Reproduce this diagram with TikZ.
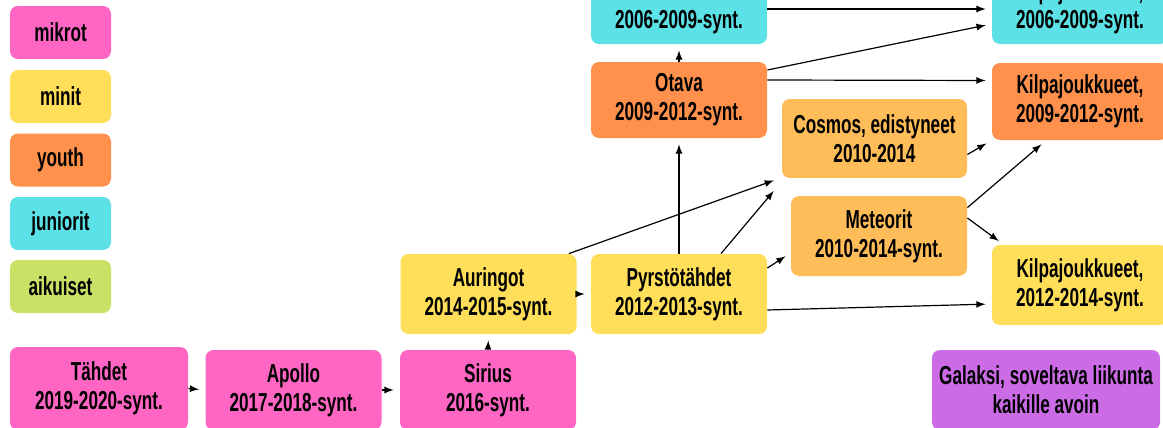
\documentclass[tikz,border=0pt]{standalone}
\usepackage{fontspec}
\setmainfont{Liberation Sans}[FakeStretch=0.66]
\definecolor{mikro}{HTML}{FF66C4}
\definecolor{mini}{HTML}{FFDE59}
\definecolor{youth}{HTML}{FF914D}
\definecolor{junior}{HTML}{5CE1E6}
\definecolor{aikuinen}{HTML}{C9E265}
\definecolor{edist}{HTML}{FFBD59}
\definecolor{galaksi}{HTML}{CB6CE6}
\begin{document}
\begin{tikzpicture}[x=0.5pt,y=-0.5pt,>=latex]
  \tikzstyle{ryhma}=[rectangle,rounded corners=4pt,align=center,inner sep=0pt,font=\bfseries\fontsize{13}{14.5}\selectfont]
  \tikzstyle{pieni}=[ryhma,minimum width=50.5pt,minimum height=26.5pt]
  \tikzstyle{iso}=[ryhma,minimum width=88pt,minimum height=40pt]
  \tikzstyle{nuoli}=[->,line width=0.6pt,shorten >=3pt]
  \useasboundingbox (0,0) rectangle (1163,428);
  \clip (0,0) rectangle (1163,428);
  % legend
  \node[pieni,fill=mikro] (mikrot) at (60.5,32.5) {mikrot};
  \node[pieni,fill=mini] (minit) at (60.5,96.5) {minit};
  \node[pieni,fill=youth] (youth) at (60.5,160) {youth};
  \node[pieni,fill=junior] (juniorit) at (60.5,223.5) {juniorit};
  \node[pieni,fill=aikuinen] (aikuiset) at (60.5,286.5) {aikuiset};
  % groups
  \node[iso,fill=mikro,minimum width=89pt,minimum height=41.5pt] (tahdet) at (99,388.5) {Tähdet\\2019-2020-synt.};
  \node[iso,fill=mikro] (apollo) at (293.5,390) {Apollo\\2017-2018-synt.};
  \node[iso,fill=mikro] (sirius) at (488,390) {Sirius\\2016-synt.};
  \node[iso,fill=mini] (auringot) at (488.5,294) {Auringot\\2014-2015-synt.};
  \node[iso,fill=mini] (pyrsto) at (679,294) {Pyrstötähdet\\2012-2013-synt.};
  \node[iso,fill=youth,minimum height=38pt] (otava) at (679,100) {Otava\\2009-2012-synt.};
  \node[iso,fill=junior,minimum height=37pt] (jun) at (679,7) {\phantom{Kilpajoukkueet,}\\2006-2009-synt.};
  \node[iso,fill=junior,minimum height=37pt] (kilpajun) at (1080,7) {Kilpajoukkueet,\\2006-2009-synt.};
  \node[iso,fill=youth,minimum height=38.5pt] (kilpayouth) at (1080,101.5) {Kilpajoukkueet,\\2009-2012-synt.};
  \node[iso,fill=edist,minimum width=92.5pt,minimum height=39.5pt] (cosmos) at (874.5,138.5) {Cosmos, edistyneet\\2010-2014};
  \node[iso,fill=edist] (meteorit) at (879,236) {Meteorit\\2010-2014-synt.};
  \node[iso,fill=mini] (kilpamini) at (1080,285) {Kilpajoukkueet,\\2012-2014-synt.};
  \node[iso,fill=galaksi,minimum width=114pt] (galaksi) at (1046,390) {Galaksi, soveltava liikunta\\kaikille avoin};
  % paths
  \draw[nuoli] (tahdet.east) -- (apollo.west);
  \draw[nuoli] (apollo.west -| apollo.east) -- (sirius.west);
  \draw[nuoli] (sirius.north) -- (auringot.south);
  \draw[nuoli] (auringot.east) -- (pyrsto.west);
  \draw[nuoli] ([xshift=-4pt]auringot.north east) -- ([xshift=-1pt]cosmos.south west);
  \draw[nuoli] (pyrsto.north) -- (otava.south);
  \draw[nuoli] ([xshift=21pt]pyrsto.north) -- ([xshift=-2pt,yshift=-4pt]cosmos.south west);
  \draw[nuoli] ([yshift=13pt]pyrsto.east) -- ([yshift=-8.5pt]meteorit.west);
  \draw[nuoli] ([yshift=-8pt]pyrsto.east) -- ([yshift=-9.5pt]kilpamini.west);
  \draw[nuoli] (otava.north) -- (jun.south);
  \draw[nuoli] ([yshift=-1pt]jun.east) -- ([yshift=-1pt]kilpajun.west);
  \draw[nuoli] ([yshift=15pt]otava.east) -- ([yshift=-8.5pt]kilpajun.west);
  \draw[nuoli] ([yshift=10pt]otava.east) -- ([yshift=10.5pt]kilpayouth.west);
  \draw[nuoli] ([yshift=-8pt]cosmos.east) -- (kilpayouth.south west);
  \draw[nuoli] ([yshift=-6pt]meteorit.north east) -- ([xshift=-17pt]kilpayouth.south);
  \draw[nuoli] ([yshift=9pt]meteorit.east) -- ([xshift=6pt]kilpamini.north west);
\end{tikzpicture}
\end{document}
